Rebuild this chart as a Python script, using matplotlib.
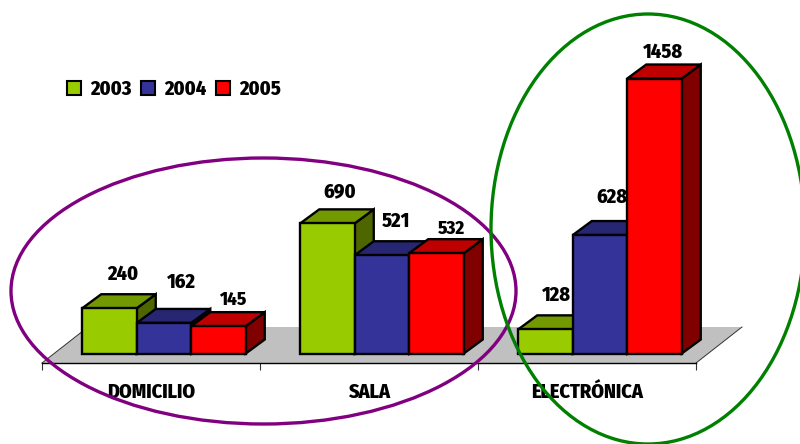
import logging
import numpy as np
import matplotlib
matplotlib.use("Agg")
import matplotlib.pyplot as plt
from matplotlib.patches import Polygon, Ellipse
from matplotlib.lines import Line2D
from matplotlib.transforms import Affine2D
logging.getLogger("matplotlib.font_manager").setLevel(logging.ERROR)

# ---- data ----
categories = ["DOMICILIO", "SALA", "ELECTRÓNICA"]
years = ["2003", "2004", "2005"]
values_2003 = [240, 690, 128]
values_2004 = [162, 521, 628]
values_2005 = [145, 532, 1458]

# ---- style / layout ----
W, H = 800, 444
FONT = ["Fira Sans Condensed", "Roboto Condensed", "Sofia Sans Condensed", "Liberation Sans", "DejaVu Sans"]
WEIGHT = 800
plt.rcParams["font.family"] = FONT
plt.rcParams["font.weight"] = WEIGHT
front_colors = ["#99CC00", "#333399", "#FF0000"]
top_colors = ["#739900", "#262673", "#BF0000"]
side_colors = ["#4D6600", "#1A1A4D", "#800000"]

PX_X = 218.0          # px per category
PX_Y = 0.1886         # px per unit
X0, Y0 = 42.0, 353.5  # px of x=0, value=0
DX = 19 / PX_X        # bar depth in data units
DY = 14 / PX_Y
BAR_W = 54.5 / PX_X
GROUP_SHIFT = 13 / PX_X
AXIS_V = -(363 - Y0) / PX_Y
FLOOR_DX = 46 / PX_X
FLOOR_DY = 36 / PX_Y

# label offsets from each bar's top-centre, in px (dx, dy)
label_offsets = {
    0: [(13, 34), (17, 41), (14, 26)],
    1: [(12, 32), (14, 34), (15, 24)],
    2: [(11, 34), (12, 38), (8, 26)],
}
label_sizes = {(0, 2): 13.5, (1, 2): 13.5}

fig = plt.figure(figsize=(W / 100, H / 100), dpi=100)
ax = fig.add_axes([0, 0, 1, 1])
ax.set_xlim(-X0 / PX_X, (W - X0) / PX_X)
ax.set_ylim(-(H - Y0) / PX_Y, Y0 / PX_Y)
ax.patch.set_visible(False)

# floor
ax.add_patch(Polygon([(0, AXIS_V), (3, AXIS_V), (3 + FLOOR_DX, AXIS_V + FLOOR_DY),
                      (FLOOR_DX, AXIS_V + FLOOR_DY)],
                     closed=True, fc="#C0C0C0", ec="none", zorder=1))
ax.plot([0, FLOOR_DX * 0.95], [AXIS_V, AXIS_V + FLOOR_DY * 0.95], color="#333333", lw=0.7, zorder=1.5)
ax.plot([3, 3 + FLOOR_DX], [AXIS_V, AXIS_V + FLOOR_DY], color="#333333", lw=0.7, zorder=1.5)

# axis
for s in ["top", "left", "right"]:
    ax.spines[s].set_visible(False)
ax.spines["bottom"].set_position(("data", AXIS_V))
ax.spines["bottom"].set_bounds(0, 3)
ax.spines["bottom"].set_linewidth(1.0)
ax.spines["bottom"].set_zorder(1.6)
ax.set_yticks([])
ax.set_xticks([0, 1, 2, 3])
ax.set_xticklabels([])
ax.set_xticks([0.5, 1.5, 2.5], minor=True)
ax.set_xticklabels(categories, minor=True, fontsize=14.5, fontweight=WEIGHT)
ax.tick_params(axis="x", which="major", length=5, width=0.8, color="#333333", direction="out")
ax.tick_params(axis="x", which="minor", length=0, pad=14.5)

# 3D-looking bars
series = [values_2003, values_2004, values_2005]
centres = np.arange(len(categories)) + 0.5 + GROUP_SHIFT
z = 2
for s, vals in enumerate(series):
    xs = centres + (s - 1) * BAR_W
    for c, (x, v) in enumerate(zip(xs, vals)):
        left, right = x - BAR_W / 2, x + BAR_W / 2
        ec = dict(ec="black", lw=1.7, joinstyle="miter", zorder=z)
        ax.add_patch(Polygon([(right, 0), (right + DX, DY), (right + DX, v + DY), (right, v)],
                             closed=True, fc=side_colors[s], **ec))
        ax.add_patch(Polygon([(left, v), (right, v), (right + DX, v + DY), (left + DX, v + DY)],
                             closed=True, fc=top_colors[s], **ec))
        ax.bar(x, v, width=BAR_W, color=front_colors[s], edgecolor="black", linewidth=1.7, zorder=z)
        dx_px, dy_px = label_offsets[c][s]
        ax.annotate(str(v), xy=(x, v), xytext=(dx_px, dy_px), textcoords="offset pixels",
                    ha="center", va="center", fontsize=label_sizes.get((c, s), 14.5),
                    fontweight=WEIGHT, color="black", zorder=20)
        z += 0.1

# legend
handles = [Line2D([], [], ls="none", marker="s", ms=10, mfc=front_colors[i], mec="black", mew=1.5)
           for i in range(3)]
ax.legend(handles, years, ncol=3, frameon=False, loc="center left",
          bbox_to_anchor=(65 / W, 1 - 89 / H), bbox_transform=fig.transFigure,
          prop={"family": FONT, "weight": WEIGHT, "size": 14.5},
          handlelength=0.9, handletextpad=0.35, columnspacing=0.38, borderpad=0, borderaxespad=0)

# hand-drawn ellipses, in picture pixels
px = Affine2D().scale(1, -1).translate(0, H)
ax.add_patch(Ellipse((263.5, 291), 505, 266, fc="none", ec="#800080", lw=2.4,
                     transform=px, zorder=30, clip_on=False))
ax.add_patch(Ellipse((648, 229), 314, 430, fc="none", ec="#008000", lw=2.4,
                     transform=px, zorder=31, clip_on=False))

fig.savefig("out.png", dpi=100, facecolor="white")
